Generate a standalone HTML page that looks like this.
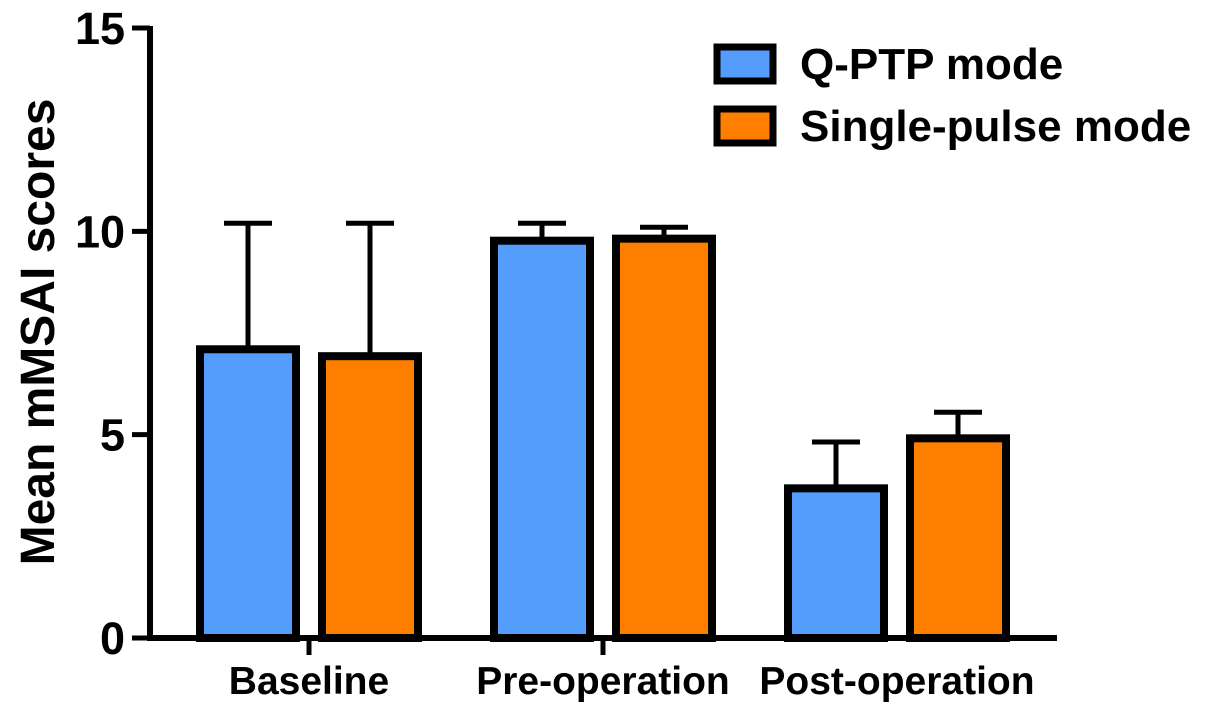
<!DOCTYPE html>
<html><head><meta charset="utf-8"><style>
body{margin:0;background:#fff}
svg text{font-family:"Liberation Sans",Arial,sans-serif;font-weight:bold;fill:#000}
</style></head><body>
<svg id="chart" width="1205" height="712" viewBox="0 0 1205 712" xmlns="http://www.w3.org/2000/svg">
<g id="axes"></g><g id="bars"></g>
<text transform="translate(54,332) rotate(-90)" text-anchor="middle" font-size="48">Mean mMSAI scores</text>
<g>
<rect x="717" y="47" width="56" height="34" fill="#559dfc" stroke="#000" stroke-width="7"/>
<text x="800" y="79" font-size="44">Q-PTP mode</text>
<rect x="717" y="109" width="56" height="34" fill="#fe7f00" stroke="#000" stroke-width="7"/>
<text x="800" y="141" font-size="44">Single-pulse mode</text>
</g>
</svg>
<script>
const categories=["Baseline","Pre-operation","Post-operation"];
const qptpMeans=[7.1,9.77,3.68];
const qptpErr=[10.2,10.2,4.82];
const singleMeans=[6.93,9.82,4.91];
const singleErr=[10.2,10.1,5.55];
const yTicks=[0,5,10,15];
const NS="http://www.w3.org/2000/svg";
const y0=638,yTop=28,yMax=15;
function y(v){return y0-(y0-yTop)*v/yMax;}
function catX(i){return 309+i*294;}
function mk(t,a,p){const e=document.createElementNS(NS,t);for(const k in a)e.setAttribute(k,a[k]);p.appendChild(e);return e;}
const ax=document.getElementById('axes'),bg=document.getElementById('bars');
let l=mk('line',{x1:150,y1:y(15)-2,x2:150,y2:y0+3,stroke:'#000','stroke-width':6},ax);


l=mk('line',{x1:147,y1:y0,x2:1057,y2:y0,stroke:'#000','stroke-width':6},ax);


yTicks.forEach(v=>{
 const t=mk('line',{x1:132,y1:y(v),x2:150,y2:y(v),stroke:'#000','stroke-width':5},ax);
 
 
 const tx=mk('text',{x:125,y:y(v)+16,'text-anchor':'end','font-size':45},ax);tx.textContent=v;
 
 
});
categories.forEach((c,i)=>{
 const cx=catX(i);
 if(i<2){const t=mk('line',{x1:cx,y1:y0,x2:cx,y2:y0+17,stroke:'#000','stroke-width':5},ax);
 
 }
 const tx=mk('text',{x:cx,y:694,'text-anchor':'middle','font-size':39},ax);tx.textContent=c;
 
 
 [[qptpMeans,qptpErr,'#559dfc',-61,'qptp'],[singleMeans,singleErr,'#fe7f00',61,'single']].forEach(s=>{
  const v=s[0][i],e=s[1][i],bx=cx+s[3];
  const er=mk('line',{x1:bx,y1:y(e),x2:bx,y2:y(v),stroke:'#000','stroke-width':5},bg);
  
  
  const cap=mk('line',{x1:bx-24,y1:y(e),x2:bx+24,y2:y(e),stroke:'#000','stroke-width':5},bg);
  
  
  const r=mk('rect',{x:bx-48,y:y(v),width:96,height:y0-y(v),fill:s[2],stroke:'#000','stroke-width':8},bg);
  
  
 });
});
</script>
</body></html>
